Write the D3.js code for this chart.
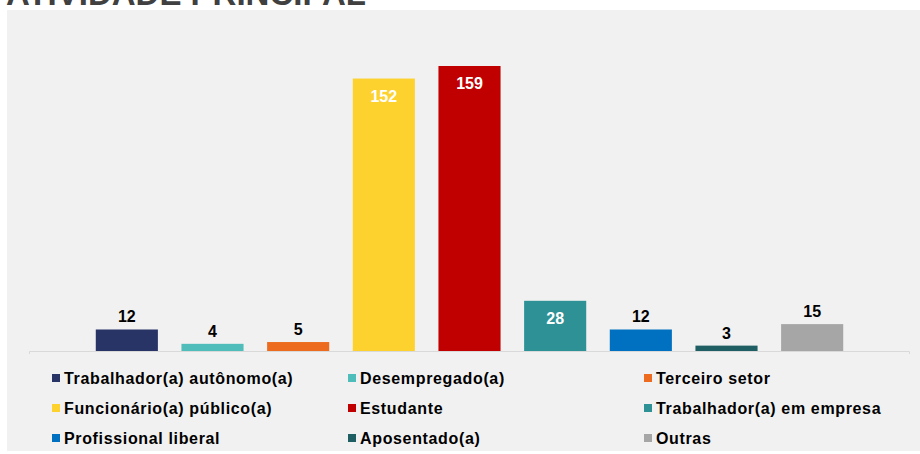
<!DOCTYPE html>
<meta charset="utf-8">
<style>
  body { margin: 0; background: #fff; }
  text { font-family: "Liberation Sans", Arial, sans-serif; font-weight: bold; }
</style>
<body>
  <svg width="920" height="454"></svg>
  <script src="https://cdn.jsdelivr.net/npm/d3@7"></script>
  <script>
    // categories, values and colours
    const categories = [
      "Trabalhador(a) autônomo(a)", "Desempregado(a)", "Terceiro setor",
      "Funcionário(a) público(a)", "Estudante", "Trabalhador(a) em empresa",
      "Profissional liberal", "Aposentado(a)", "Outras"
    ]
    const values = [12, 4, 5, 152, 159, 28, 12, 3, 15]
    const colors = ["#283465", "#4fbdba", "#ec6b1f", "#fdd22f", "#c00000",
                    "#2e9196", "#0070c0", "#1f5f63", "#a6a6a6"]
    const insideLabels = ["Funcionário(a) público(a)", "Estudante", "Trabalhador(a) em empresa"]

    const svg = d3.select("svg"),
      width = +svg.attr("width"),
      height = +svg.attr("height")

    // title, cut off at the top like in the source
    svg.append("text")
      .attr("x", 6).attr("y", 5)
      .attr("font-size", 33)
      .attr("fill", "#404040")
      .text("ATIVIDADE PRINCIPAL")

    // grey panel
    svg.append("rect")
      .attr("x", 7).attr("y", 10)
      .attr("width", width - 7).attr("height", 441)
      .attr("fill", "#f1f1f1")

    const baseY = 351

    const x = d3.scaleBand()
      .domain(categories)
      .range([84, 855])
      .paddingInner(0.275)
      .paddingOuter(0.1375)

    const y = d3.scaleLinear()
      .domain([0, 159])
      .range([baseY, 66])

    const data = categories.map((c, i) => ({ name: c, value: values[i], color: colors[i] }))

    svg.selectAll(".bar")
      .data(data)
      .enter().append("rect")
      .attr("class", "bar")
      .attr("x", d => x(d.name))
      .attr("y", d => y(d.value))
      .attr("width", x.bandwidth())
      .attr("height", d => baseY - y(d.value))
      .attr("fill", d => d.color)

    // axis line with small end ticks
    svg.append("path")
      .attr("d", "M29.5," + (baseY + 3) + "V" + (baseY + 0.5) + "H909.5V" + (baseY + 3))
      .attr("fill", "none")
      .attr("stroke", "#d9d9d9")
      .attr("stroke-width", 1)

    svg.selectAll(".val")
      .data(data)
      .enter().append("text")
      .attr("class", "val")
      .attr("x", d => x(d.name) + x.bandwidth() / 2)
      .attr("y", d => insideLabels.includes(d.name) ? y(d.value) + 23 : y(d.value) - 7)
      .attr("text-anchor", "middle")
      .attr("font-size", 16)
      .attr("fill", d => insideLabels.includes(d.name) ? "#fff" : "#000")
      .text(d => d.value)

    // legend, 3 columns, row-wise
    const colX = [52, 348, 644]
    const rowY = [378, 408, 438]

    const item = svg.selectAll(".legend")
      .data(data)
      .enter().append("g")
      .attr("class", "legend")
      .attr("transform", (d, i) => "translate(" + colX[i % 3] + "," + rowY[Math.floor(i / 3)] + ")")

    item.append("rect")
      .attr("x", 0).attr("y", -4)
      .attr("width", 8).attr("height", 8)
      .attr("fill", d => d.color)

    item.append("text")
      .attr("x", 12).attr("y", 6)
      .attr("font-size", 16)
      .attr("letter-spacing", 0.65)
      .attr("fill", "#000")
      .text(d => d.name)
  </script>
</body>
